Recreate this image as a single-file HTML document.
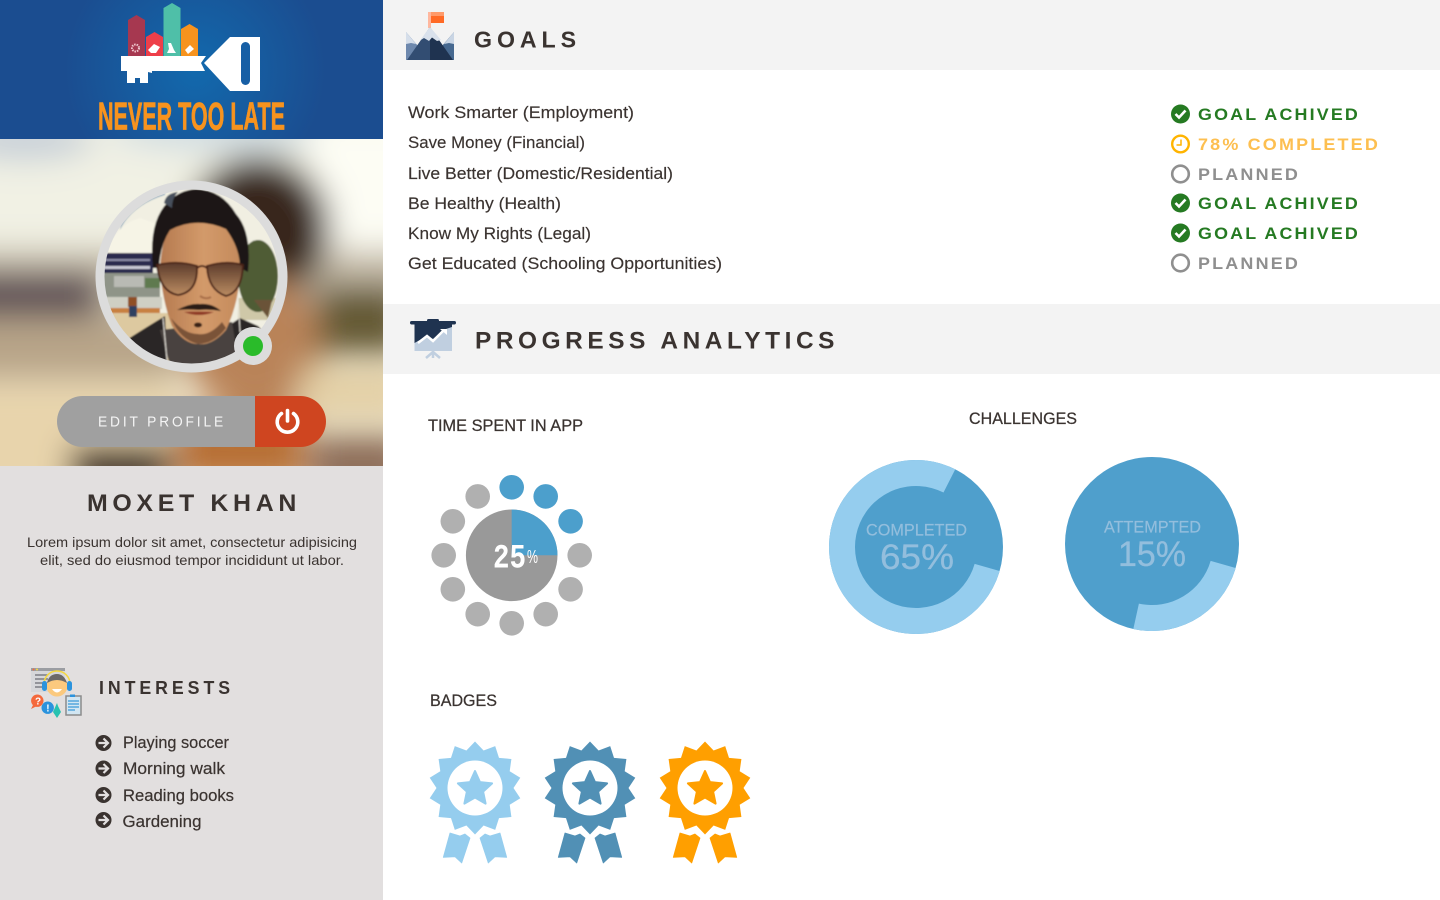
<!DOCTYPE html>
<html lang="en">
<head>
<meta charset="utf-8">
<title>Never Too Late – Profile Dashboard</title>
<style>
html,body{margin:0;padding:0;width:1440px;height:900px;overflow:hidden;background:#fff}
svg{display:block;font-family:"Liberation Sans",sans-serif}
.h{font-weight:700;fill:#3a3330}
.row{font-size:17px;fill:#3a3330;stroke:#3a3330;stroke-width:.15}
.st{font-size:16.5px;font-weight:700;letter-spacing:2px}
.int{font-size:16.5px;fill:#3a3330;stroke:#3a3330;stroke-width:.2}
.ttl{font-size:17px;fill:#3a3330;stroke:#3a3330;stroke-width:.25}
</style>
</head>
<body>
<svg id="page" xmlns="http://www.w3.org/2000/svg" width="1440" height="900" viewBox="0 0 1440 900">
<defs>
  <radialGradient id="logoBg" gradientUnits="userSpaceOnUse" cx="195" cy="70" r="130">
    <stop offset="0" stop-color="#1269ad"/><stop offset="1" stop-color="#1b4d90"/>
  </radialGradient>
  <linearGradient id="lens" x1="0" y1="0" x2="0" y2="1">
    <stop offset="0" stop-color="#5a3a2a"/><stop offset="1" stop-color="#bb8c62"/>
  </linearGradient>
  <linearGradient id="faceFill" x1="0" y1="0" x2="1" y2="0">
    <stop offset="0" stop-color="#b57a50"/><stop offset=".55" stop-color="#d39a6a"/><stop offset="1" stop-color="#c48a5c"/>
  </linearGradient>
  <filter id="bigBlur" filterUnits="userSpaceOnUse" x="-80" y="60" width="560" height="480"><feGaussianBlur stdDeviation="16"/></filter>
  <filter id="softBlur" filterUnits="userSpaceOnUse" x="90" y="170" width="200" height="210"><feGaussianBlur stdDeviation="0.9"/></filter>
  <clipPath id="bgClip"><rect x="0" y="139" width="383" height="327"/></clipPath>
  <clipPath id="photoClip"><circle cx="191.5" cy="276.5" r="87"/></clipPath>
</defs>

<rect x="0" y="0" width="1440" height="900" fill="#fff"/>

<!-- Sidebar -->
<g>
  <rect x="0" y="466" width="383" height="434" fill="#e2dfdf"/>
  <g>
    <rect x="0" y="0" width="383" height="139" fill="url(#logoBg)"/>
    <g>
      <path d="M128 56V20L136.500 15L145 20V56Z" fill="#a63850"/>
      <path d="M146 56V37L154.500 32L163 37V56Z" fill="#ee3f4a"/>
      <path d="M163.500 56V8L172 3L180.500 8V56Z" fill="#4fbfa8"/>
      <path d="M181 56V29L189.500 24L198 29V56Z" fill="#f7931e"/>
      <circle cx="135.500" cy="48" r="3.500" fill="none" stroke="#f0c8d0" stroke-width="2" stroke-dasharray="1.500 1"/>
      <path d="M148 50L154 44L160 47L156 53L151 53Z" fill="#fff"/>
      <path d="M168 43L171 43L174 50L176 53L167 53L169 49Z" fill="#fff"/>
      <path d="M185 50L190 45L194 49L188 54Z" fill="#fff"/>
      <path d="M121 56H206L201 63L205 71H152V73L148 72V83H140V78H135V83H127V71H121Z" fill="#fff"/>
      <path d="M204 63L230 37H260V91H230Z" fill="#fff"/>
      <rect x="241" y="42" width="9" height="43" rx="4.500" fill="#175fa5"/>
    </g>
    <text x="98" y="129.500" font-size="39" font-weight="700" fill="#f7931e" stroke="#f7931e" stroke-width=".7" textLength="187" lengthAdjust="spacingAndGlyphs">NEVER TOO LATE</text>
  </g>

  <g clip-path="url(#bgClip)">
    <rect x="0" y="139" width="383" height="327" fill="#f2ecd6"/>
    <g filter="url(#bigBlur)">
      <rect x="-40" y="100" width="460" height="170" fill="#f1f1e4"/>
      <ellipse cx="25" cy="140" rx="70" ry="20" fill="#c6cfd8"/>
      <ellipse cx="220" cy="130" rx="110" ry="20" fill="#cfdce2"/>
      <rect x="310" y="120" width="110" height="150" fill="#fdfdf4"/>
      <rect x="-40" y="250" width="460" height="70" fill="#c2b8a4"/>
      <rect x="-40" y="272" width="140" height="46" fill="#5d4f55"/>
      <rect x="-40" y="320" width="220" height="60" fill="#b8a488"/>
      <rect x="-40" y="385" width="220" height="120" fill="#e8d4ac"/>
      <ellipse cx="258" cy="228" rx="72" ry="72" fill="#38271f"/>
      <ellipse cx="255" cy="345" rx="70" ry="70" fill="#b98358"/>
      <rect x="318" y="285" width="90" height="70" fill="#655a36"/>
      <rect x="300" y="368" width="110" height="50" fill="#e3cfa4"/>
      <rect x="310" y="435" width="100" height="60" fill="#8d6d58"/>
      <rect x="70" y="445" width="100" height="50" fill="#3a2a22"/>
      <rect x="175" y="415" width="130" height="70" fill="#b76f34"/>
    </g>
  </g>

  <g>
    <circle cx="191.500" cy="276.500" r="96" fill="#dcdcdc"/>
    <g clip-path="url(#photoClip)">
      <g filter="url(#softBlur)">
        <rect x="100" y="185" width="185" height="185" fill="#f1efe2"/>
        <path d="M120 230Q132 205 165 195L165 188H125Z" fill="#a2b6c4"/>
        <path d="M106 255Q115 225 140 218L160 225V255Z" fill="#f6f4e6"/>
        <rect x="100" y="253" width="53" height="20" fill="#2a2a4e"/>
        <rect x="104" y="259" width="46" height="2" fill="#8f8fa8"/>
        <rect x="104" y="266" width="46" height="3" fill="#c8c8d4"/>
        <rect x="100" y="273" width="60" height="26" fill="#8f9488"/>
        <rect x="114" y="276" width="30" height="11" fill="#b9bab4"/>
        <rect x="145" y="278" width="15" height="10" fill="#5e7a50"/>
        <rect x="100" y="297" width="62" height="12" fill="#cfcfc4"/>
        <rect x="110" y="308" width="50" height="5" fill="#c8803f"/>
        <rect x="100" y="313" width="75" height="57" fill="#ddc9a0"/>
        <rect x="128" y="297" width="9" height="10" fill="#8f4f28"/>
        <rect x="129" y="306" width="8" height="11" fill="#2f3f60"/>
        <rect x="238" y="298" width="45" height="22" fill="#cfc8a8"/>
        <ellipse cx="258" cy="276" rx="20" ry="36" fill="#505c36"/>
        <path d="M254 300L268 318L272 300Z" fill="#6b5238"/>
        <path d="M128 339Q145 328 165 316L168 372H128ZM225 328L240 318L258 326L272 340L250 372H225Z" fill="#2c2725"/>
        <path d="M160 330L172 372H240L232 322Z" fill="#4a4340"/>
        <path d="M160 268Q162 236 172 226Q196 214 226 226Q240 244 240 268Q240 300 226 330Q212 346 198 344Q184 344 172 326Q162 300 160 268Z" fill="url(#faceFill)"/>
        <path d="M171 318Q180 340 198 344Q214 344 226 328L222 322Q210 336 198 334Q184 334 171 318Z" fill="#7a5238"/>
        <path d="M153 268Q148 222 168 202Q180 190 196 189Q222 190 236 214Q252 232 248 272L240 268Q240 248 226 229Q196 216 170 230Q160 245 159 268Z" fill="#1f1614"/>
        <path d="M164 203Q166 193 178 192Q172 198 172 208Z" fill="#46505c"/>
        <path d="M157 265Q178 260 197 266Q198 292 178 295Q160 292 157 265Z" fill="url(#lens)" stroke="#4a2418" stroke-width="1.800"/>
        <path d="M207 266Q226 260 243 265Q242 292 226 296Q208 290 207 266Z" fill="url(#lens)" stroke="#4a2418" stroke-width="1.800"/>
        <path d="M197 268Q202 264 207 268" fill="none" stroke="#4a2418" stroke-width="1.800"/>
        <path d="M177 310Q190 303 200 304Q212 303 221 311Q210 309 199 310Q188 309 177 310Z" fill="#2c1c14"/>
        <path d="M184 312Q199 311 214 312Q199 318 184 312Z" fill="#8f3a28"/>
        <ellipse cx="198" cy="325" rx="4" ry="2.500" fill="#3a2418"/>
        <path d="M200 296Q206 300 211 297" fill="none" stroke="#a86e48" stroke-width="2"/>
        <path d="M163 318L167 360M238 296L240 332" fill="none" stroke="#ece8e0" stroke-width="1"/>
      </g>
    </g>
    <circle cx="253" cy="346" r="19" fill="#dcdcdc"/>
    <circle cx="253" cy="346" r="10" fill="#2abb2a"/>
  </g>

  <g>
    <path d="M255 396H82.500A25.500 25.500 0 0 0 82.500 447H255Z" fill="#a0a0a0"/>
    <text x="98" y="426.500" font-size="14.500" fill="#f4f4f4" letter-spacing="3" textLength="128" lengthAdjust="spacingAndGlyphs">EDIT PROFILE</text>
  </g>
  <g>
    <path d="M255 396H300.500A25.500 25.500 0 0 1 300.500 447H255Z" fill="#cf4520"/>
    <path d="M281.500 413.500A10.300 10.300 0 1 0 293.500 413.500" fill="none" stroke="#fff" stroke-width="3.600" stroke-linecap="round"/>
    <path d="M287.500 410.500V421" fill="none" stroke="#fff" stroke-width="3.600" stroke-linecap="round"/>
  </g>

  <text x="87" y="511" class="h" font-size="24" letter-spacing="4.500" textLength="214" lengthAdjust="spacingAndGlyphs">MOXET KHAN</text>
  <g font-size="14" fill="#3a3330">
    <text x="27" y="547" textLength="330" lengthAdjust="spacingAndGlyphs">Lorem ipsum dolor sit amet, consectetur adipisicing</text>
    <text x="40" y="565" textLength="304" lengthAdjust="spacingAndGlyphs">elit, sed do eiusmod tempor incididunt ut labor.</text>
  </g>

  <g>
    <rect x="31" y="668" width="34" height="24" fill="#d6d7da"/>
    <rect x="31" y="668" width="34" height="3" fill="#9b9da2"/>
    <circle cx="33.500" cy="669.500" r="1" fill="#f4693c"/>
    <circle cx="37" cy="669.500" r="1" fill="#f5d840"/>
    <path d="M35 675H48M35 679H48M35 683H46M35 687H46" stroke="#7d7f84" stroke-width="1.500"/>
    <path d="M44 684A13 13 0 0 1 70 684" fill="none" stroke="#f5d840" stroke-width="1.500"/>
    <circle cx="57" cy="686" r="10.500" fill="#fbc97e"/>
    <path d="M47 683Q49 674 57 674Q64 674 67 683Q57 677 47 683Z" fill="#6c6a68"/>
    <rect x="42" y="681" width="5" height="10" rx="2.500" fill="#2b93dd"/>
    <rect x="67" y="681" width="5" height="10" rx="2.500" fill="#2b93dd"/>
    <path d="M52 689H62Q57 696 52 689Z" fill="#fff"/>
    <path d="M57 703L58 706L61 712L57 718L53 712Z" fill="#27c2b0"/>
    <circle cx="37.300" cy="700.700" r="6.200" fill="#f4693c"/>
    <path d="M33 705L31 709L37 706Z" fill="#f4693c"/>
    <text x="35" y="704.500" font-size="10" font-weight="700" fill="#fff">?</text>
    <circle cx="47.700" cy="707.700" r="6.200" fill="#2b93dd"/>
    <text x="46.200" y="711.500" font-size="10" font-weight="700" fill="#fff">!</text>
    <rect x="66" y="696" width="15" height="19" fill="#d2e6f2" stroke="#8b8b8b" stroke-width="1.500"/>
    <path d="M68 701H79M68 704H79M68 707H79M68 710H75" stroke="#3b9ad8" stroke-width="1.200"/>
    <rect x="70" y="694.500" width="5" height="2.500" fill="#2b93dd"/>
  </g>
  <text x="99" y="694" class="h" font-size="18" letter-spacing="4" textLength="135" lengthAdjust="spacingAndGlyphs">INTERESTS</text>

  <g>
    <g>
      <circle cx="103.500" cy="743" r="8" fill="#3a3330"/><path d="M98.500 743H107.500M103.500 738.500L108 743L103.500 747.500" fill="none" stroke="#e2dfdf" stroke-width="2.200"/>
      <text x="123" y="748" class="int" textLength="106" lengthAdjust="spacingAndGlyphs">Playing soccer</text>
    </g>
    <g>
      <circle cx="103.500" cy="768.500" r="8" fill="#3a3330"/><path d="M98.500 768.500H107.500M103.500 764L108 768.500L103.500 773" fill="none" stroke="#e2dfdf" stroke-width="2.200"/>
      <text x="123" y="774" class="int" textLength="102" lengthAdjust="spacingAndGlyphs">Morning walk</text>
    </g>
    <g>
      <circle cx="103.500" cy="795" r="8" fill="#3a3330"/><path d="M98.500 795H107.500M103.500 790.500L108 795L103.500 799.500" fill="none" stroke="#e2dfdf" stroke-width="2.200"/>
      <text x="123" y="801" class="int" textLength="111" lengthAdjust="spacingAndGlyphs">Reading books</text>
    </g>
    <g>
      <circle cx="103.500" cy="820" r="8" fill="#3a3330"/><path d="M98.500 820H107.500M103.500 815.500L108 820L103.500 824.500" fill="none" stroke="#e2dfdf" stroke-width="2.200"/>
      <text x="122.500" y="827" class="int" textLength="79" lengthAdjust="spacingAndGlyphs">Gardening</text>
    </g>
  </g>
</g>

<!-- Goals -->
<g>
  <rect x="383" y="0" width="1057" height="70" fill="#f3f3f3"/>
  <g>
    <rect x="428" y="12" width="3" height="16" fill="#ffb79e"/>
    <rect x="431" y="12" width="13" height="4" fill="#ff9a6a"/>
    <rect x="431" y="16" width="13" height="7" fill="#ff6a26"/>
    <path d="M406 32L430 60H406Z" fill="#6d88ad"/>
    <path d="M406 32L416 44L411 43L406 44Z" fill="#d5deea"/>
    <path d="M454 32L430 60H454Z" fill="#46688f"/>
    <path d="M454 32L444 44L449 43L454 44Z" fill="#c9d5e4"/>
    <path d="M430 27L407 60H430Z" fill="#324d72"/>
    <path d="M430 27L453 60H430Z" fill="#1f3350"/>
    <path d="M430 27L420 40.500L424 38L429 41L432 37.500L437 41L441 40Z" fill="#d9e1ec"/>
  </g>
  <text x="474" y="47.500" class="h" font-size="23.500" letter-spacing="5" textLength="107" lengthAdjust="spacingAndGlyphs">GOALS</text>

  <g>
    <text x="408" y="118" class="row" textLength="226" lengthAdjust="spacingAndGlyphs">Work Smarter (Employment)</text>
    <text x="408" y="148" class="row" textLength="177" lengthAdjust="spacingAndGlyphs">Save Money (Financial)</text>
    <text x="408" y="179" class="row" textLength="265" lengthAdjust="spacingAndGlyphs">Live Better (Domestic/Residential)</text>
    <text x="408" y="209" class="row" textLength="153" lengthAdjust="spacingAndGlyphs">Be Healthy (Health)</text>
    <text x="408" y="239" class="row" textLength="183" lengthAdjust="spacingAndGlyphs">Know My Rights (Legal)</text>
    <text x="408" y="269" class="row" textLength="314" lengthAdjust="spacingAndGlyphs">Get Educated (Schooling Opportunities)</text>
  </g>

  <g>
    <g>
      <circle cx="1180.500" cy="114" r="9.500" fill="#257a22"/><path d="M1175.500 114L1179 117.500L1185.500 110.500" fill="none" stroke="#fff" stroke-width="2.600"/>
      <text x="1198" y="120" class="st" fill="#257a22" textLength="162" lengthAdjust="spacingAndGlyphs">GOAL ACHIVED</text>
    </g>
    <g>
      <circle cx="1180.500" cy="144" r="8.300" fill="none" stroke="#ffb400" stroke-width="2.400"/><path d="M1181 139.500V145H1176.500" fill="none" stroke="#ffb400" stroke-width="1.500"/>
      <text x="1198" y="150" class="st" fill="#fdbf50" textLength="182" lengthAdjust="spacingAndGlyphs">78% COMPLETED</text>
    </g>
    <g>
      <circle cx="1180.500" cy="174" r="8.300" fill="none" stroke="#8f8f8f" stroke-width="2.600"/>
      <text x="1198" y="180" class="st" fill="#8f8f8f" textLength="102" lengthAdjust="spacingAndGlyphs">PLANNED</text>
    </g>
    <g>
      <circle cx="1180.500" cy="203" r="9.500" fill="#257a22"/><path d="M1175.500 203L1179 206.500L1185.500 199.500" fill="none" stroke="#fff" stroke-width="2.600"/>
      <text x="1198" y="209" class="st" fill="#257a22" textLength="162" lengthAdjust="spacingAndGlyphs">GOAL ACHIVED</text>
    </g>
    <g>
      <circle cx="1180.500" cy="233" r="9.500" fill="#257a22"/><path d="M1175.500 233L1179 236.500L1185.500 229.500" fill="none" stroke="#fff" stroke-width="2.600"/>
      <text x="1198" y="239" class="st" fill="#257a22" textLength="162" lengthAdjust="spacingAndGlyphs">GOAL ACHIVED</text>
    </g>
    <g>
      <circle cx="1180.500" cy="263" r="8.300" fill="none" stroke="#8f8f8f" stroke-width="2.600"/>
      <text x="1198" y="269" class="st" fill="#8f8f8f" textLength="102" lengthAdjust="spacingAndGlyphs">PLANNED</text>
    </g>
  </g>
</g>

<!-- Progress analytics -->
<g>
  <rect x="383" y="304" width="1057" height="70" fill="#f3f3f3"/>
  <g>
    <rect x="414.500" y="323" width="37.500" height="28" fill="#c0cfe0"/>
    <path d="M414.500 323H452V327L443 330L433 339L427 336L414.500 343Z" fill="#1f3350"/>
    <rect x="410" y="321" width="46" height="3.500" rx="1.700" fill="#1f3350"/>
    <rect x="427" y="319" width="12" height="3" rx="1.500" fill="#1f3350"/>
    <path d="M418 343L427 336L433 341L443 331" fill="none" stroke="#fff" stroke-width="2.500"/>
    <path d="M440 329H447V335Z" fill="#fff"/>
    <path d="M433 351V358M433 352L426 358M433 352L440 358" stroke="#c0cfe0" stroke-width="2.500" fill="none"/>
  </g>
  <text x="475" y="348.500" class="h" font-size="24" letter-spacing="4.500" textLength="364" lengthAdjust="spacingAndGlyphs">PROGRESS ANALYTICS</text>

  <text x="428" y="431" class="ttl" textLength="155" lengthAdjust="spacingAndGlyphs">TIME SPENT IN APP</text>
  <g id="time-chart"></g>

  <text x="969" y="424" class="ttl" textLength="108" lengthAdjust="spacingAndGlyphs">CHALLENGES</text>
  <g id="challenge-charts"></g>

  <text x="430" y="706" class="ttl" textLength="67" lengthAdjust="spacingAndGlyphs">BADGES</text>
  <g id="badges"></g>
</g>
</svg>

<script>
/* Time spent chart data */
const timeSpentPercent = [25];
/* Challenge chart data */
const challengeLabels = ['COMPLETED', 'ATTEMPTED'];
const challengePrintedPercent = [65, 15];
const challengeArcPercent = [78, 24];
/* Badge data */
const badgeNames = ['badge-light-blue', 'badge-steel-blue', 'badge-orange'];
const badgeColors = ['#95cdee', '#5190b5', '#ff9f00'];

const NS = 'http://www.w3.org/2000/svg';
function make(tag, attrs, parent) {
  const node = document.createElementNS(NS, tag);
  Object.keys(attrs).forEach(function (k) { node.setAttribute(k, attrs[k]); });
  parent.appendChild(node);
  return node;
}
function polar(cx, cy, r, deg) {
  const a = (deg - 90) * Math.PI / 180;
  return [cx + r * Math.cos(a), cy + r * Math.sin(a)];
}
function percentToDeg(p) { return p * 3.6; }

function drawTimeChart() {
  const root = document.getElementById('time-chart');
  const cx = 511.7, cy = 555.3, orbit = 68, dotR = 12.3, pieR = 45.8, dotCount = 12;
  const value = timeSpentPercent[0];
  for (let i = 0; i < dotCount; i++) {
    const p = polar(cx, cy, orbit, i * 360 / dotCount);
    const filled = i < Math.round(value / 100 * dotCount);
    const dot = make('circle', { cx: p[0], cy: p[1], r: dotR, fill: filled ? '#4c9fcc' : '#b0b0b0' }, root);
    
    
  }
  const base = make('circle', { cx: cx, cy: cy, r: pieR, fill: '#999999' }, root);
  
  
  const end = polar(cx, cy, pieR, percentToDeg(value));
  const large = percentToDeg(value) > 180 ? 1 : 0;
  const wedge = make('path', { d: 'M' + cx + ' ' + cy + 'L' + cx + ' ' + (cy - pieR) + 'A' + pieR + ' ' + pieR + ' 0 ' + large + ' 1 ' + end[0] + ' ' + end[1] + 'Z', fill: '#4c9fcc' }, root);
  
  
  const num = make('text', { x: 493, y: 567.5, 'font-size': 34, 'font-weight': 700, fill: '#fff', textLength: 33, lengthAdjust: 'spacingAndGlyphs', 'font-family': '"Liberation Mono",monospace' }, root);
  num.textContent = String(value);
  
  
  const pct = make('text', { x: 527, y: 563, 'font-size': 18, fill: '#fff', textLength: 11, lengthAdjust: 'spacingAndGlyphs' }, root);
  pct.textContent = '%';
  
  
}

function drawChallengeCharts() {
  const root = document.getElementById('challenge-charts');
  const centersX = [916, 1152];
  const centersY = [547, 544];
  const labelOffsetX = [-50, -48];
  const labelWidth = [101, 97];
  const valueOffsetX = [-36, -34];
  const valueWidth = [74, 68];
  const outerR = 87, innerR = 61, startDeg = 106;
  challengeLabels.forEach(function (label, i) {
    const cx = centersX[i], cy = centersY[i];
    const g = make('g', {}, root);
    
    
    const disc = make('circle', { cx: cx, cy: cy, r: outerR, fill: '#4f9fcc' }, g);
    
    
    const sweep = percentToDeg(challengeArcPercent[i]);
    const a = polar(cx, cy, outerR, startDeg);
    const b = polar(cx, cy, outerR, startDeg + sweep);
    const c = polar(cx, cy, innerR, startDeg + sweep);
    const d = polar(cx, cy, innerR, startDeg);
    const large = sweep > 180 ? 1 : 0;
    const arc = make('path', {
      d: 'M' + a[0] + ' ' + a[1] + 'A' + outerR + ' ' + outerR + ' 0 ' + large + ' 1 ' + b[0] + ' ' + b[1] +
         'L' + c[0] + ' ' + c[1] + 'A' + innerR + ' ' + innerR + ' 0 ' + large + ' 0 ' + d[0] + ' ' + d[1] + 'Z',
      fill: '#95cdee'
    }, g);
    
    
    const t = make('text', { x: cx + labelOffsetX[i], y: cy - 11.5, 'font-size': 17, fill: '#93bedd', stroke: '#93bedd', 'stroke-width': 0.2, textLength: labelWidth[i], lengthAdjust: 'spacingAndGlyphs' }, g);
    t.textContent = label;
    
    
    const v = make('text', { x: cx + valueOffsetX[i], y: cy + 22, 'font-size': 35, fill: '#93bedd', stroke: '#93bedd', 'stroke-width': 0.3, textLength: valueWidth[i], lengthAdjust: 'spacingAndGlyphs' }, g);
    v.textContent = challengePrintedPercent[i] + '%';
    
    
  });
}

function drawBadges() {
  const root = document.getElementById('badges');
  const cy = 788, step = 115, firstX = 475;
  const ribbon = [[-25, 45], [-15, 48], [-10, 46], [-5, 50], [-13.3, 75], [-20, 68.7], [-31.7, 69.3]];
  badgeNames.forEach(function (name, i) {
    const cx = firstX + i * step;
    const color = badgeColors[i];
    const g = make('g', {}, root);
    
    
    [-1, 1].forEach(function (side) {
      const rb = ribbon.map(function (q) { return (cx + side * q[0]) + ',' + (cy + q[1]); }).join(' ');
      make('polygon', { points: rb, fill: color, stroke: color, 'stroke-width': 0.8, 'stroke-linejoin': 'round' }, g);
    });
    let pts = [];
    for (let k = 0; k < 28; k++) {
      const p = polar(cx, cy, k % 2 ? 38.5 : 46.5, k * 360 / 28);
      pts.push(p[0].toFixed(1) + ',' + p[1].toFixed(1));
    }
    make('polygon', { points: pts.join(' '), fill: color, 'stroke-linejoin': 'round' }, g);
    make('circle', { cx: cx, cy: cy, r: 27.5, fill: '#fff' }, g);
    let star = [];
    for (let k = 0; k < 10; k++) {
      const p = polar(cx, cy + 1, k % 2 ? 8.5 : 18, k * 36);
      star.push(p[0].toFixed(1) + ',' + p[1].toFixed(1));
    }
    make('polygon', { points: star.join(' '), fill: color, stroke: color, 'stroke-width': 2, 'stroke-linejoin': 'round' }, g);
  });
}

drawTimeChart();
drawChallengeCharts();
drawBadges();
</script>
</body>
</html>
